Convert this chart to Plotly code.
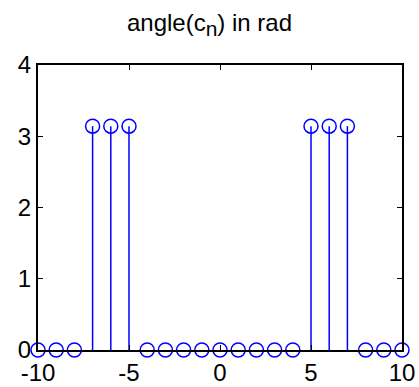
import numpy as np
import plotly.graph_objects as go

n = list(range(-10, 11))
angle = [0, 0, 0, np.pi, np.pi, np.pi, 0, 0, 0, 0, 0, 0, 0, 0, 0, np.pi, np.pi, np.pi, 0, 0, 0]
x_ticks = [-10, -5, 0, 5, 10]
y_ticks = [0, 1, 2, 3, 4]

blue = "#0000FF"
sx, sy = [], []
for xi, yi in zip(n, angle):
    if yi != 0:
        sx += [xi, xi, None]
        sy += [0, yi, None]

fig = go.Figure()
fig.add_trace(go.Scatter(x=sx, y=sy, mode="lines", line=dict(color=blue, width=1.5),
                         hoverinfo="skip", showlegend=False, cliponaxis=False))
fig.add_trace(go.Scatter(x=n, y=angle, mode="markers",
                         marker=dict(symbol="circle-open", size=14, color=blue,
                                     line=dict(color=blue, width=1.5)),
                         showlegend=False, cliponaxis=False))

axis_common = dict(showline=True, mirror="ticks", linecolor="black", linewidth=2,
                   ticks="inside", ticklen=5, tickwidth=1, tickcolor="black",
                   showgrid=False, zeroline=False, automargin=False,
                   tickfont=dict(family="Liberation Sans, Arial", size=24, color="black"))
fig.update_xaxes(range=[-10, 10], tickvals=x_ticks, ticktext=[str(v) for v in x_ticks], **axis_common)
fig.update_yaxes(range=[0, 4], tickvals=y_ticks, ticktext=[str(v) for v in y_ticks], **axis_common)

fig.update_layout(
    width=419, height=387,
    margin=dict(l=38, r=17, t=65, b=37, autoexpand=False),
    paper_bgcolor="white", plot_bgcolor="white",
    title=dict(text="angle(c<sub><span style='font-size:21px'>n</span></sub>) in rad",
               x=0.5, xanchor="center",
               y=0.942, yanchor="middle", automargin=False,
               font=dict(family="Liberation Sans, Arial", size=24, color="black")),
)
fig.write_html("out.html")
